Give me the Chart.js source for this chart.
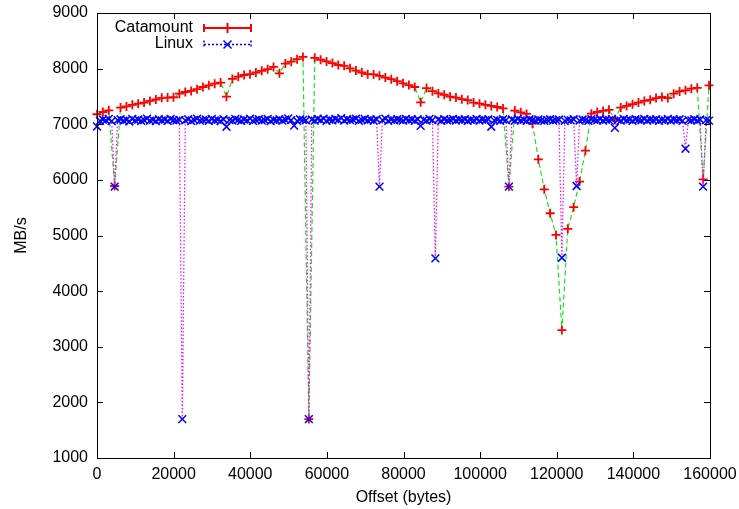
<!DOCTYPE html>
<html lang="en">
<head>
<meta charset="UTF-8">
<title>Catamount vs Linux</title>
<script src="https://cdn.jsdelivr.net/npm/chart.js"></script>
<style>
  html, body { margin: 0; padding: 0; background: #fff; }
  #box { width: 739px; height: 509px; }
</style>
</head>
<body>
<div id="box"><canvas id="grafico"></canvas></div>
<script>
// offsets (bytes) where Catamount was measured
const catOffsets = [
  0, 1536, 3072, 4608, 6144, 7680, 9216, 10752, 12288, 13824,
  15360, 16896, 18432, 19968, 21504, 23040, 24576, 26112, 27648, 29184,
  30720, 32256, 33792, 35328, 36864, 38400, 39936, 41472, 43008, 44544,
  46080, 47616, 49152, 50688, 52224, 53760, 55296, 56832, 58368, 59904,
  61440, 62976, 64512, 66048, 67584, 69120, 70656, 72192, 73728, 75264,
  76800, 78336, 79872, 81408, 82944, 84480, 86016, 87552, 89088, 90624,
  92160, 93696, 95232, 96768, 98304, 99840, 101376, 102912, 104448, 105984,
  107520, 109056, 110592, 112128, 113664, 115200, 116736, 118272, 119808, 121344,
  122880, 124416, 125952, 127488, 129024, 130560, 132096, 133632, 135168, 136704,
  138240, 139776, 141312, 142848, 144384, 145920, 147456, 148992, 150528, 152064,
  153600, 155136, 156672, 158208, 159744
];
// MB/s
const catamount = [
  7180, 7220, 7250, 5890, 7300, 7320, 7350, 7370, 7390, 7420,
  7445, 7475, 7480, 7485, 7550, 7580, 7600, 7630, 7670, 7700,
  7730, 7750, 7495, 7815, 7855, 7885, 7900, 7930, 7960, 7990,
  8030, 7915, 8090, 8125, 8170, 8210, 1700, 8195, 8160, 8130,
  8100, 8065, 8050, 8005, 7965, 7930, 7900, 7895, 7870, 7840,
  7810, 7775, 7735, 7705, 7670, 7395, 7650, 7595, 7555, 7530,
  7495, 7480, 7450, 7435, 7390, 7370, 7350, 7330, 7310, 7285,
  5880, 7245, 7215, 7185, 7010, 6370, 5830, 5400, 5010, 3300,
  5120, 5510, 5970, 6525, 7190, 7220, 7240, 7260, 7090, 7300,
  7330, 7360, 7390, 7420, 7440, 7470, 7490, 7470, 7550, 7590,
  7610, 7640, 7655, 6010, 7700
];

// offsets (bytes) where Linux was measured
const linuxOffsets = [
  0, 768, 1536, 2304, 3072, 3840, 4608, 5376, 6144, 6912,
  7680, 8448, 9216, 9984, 10752, 11520, 12288, 13056, 13824, 14592,
  15360, 16128, 16896, 17664, 18432, 19200, 19968, 20736, 21504, 22272,
  23040, 23808, 24576, 25344, 26112, 26880, 27648, 28416, 29184, 29952,
  30720, 31488, 32256, 33024, 33792, 34560, 35328, 36096, 36864, 37632,
  38400, 39168, 39936, 40704, 41472, 42240, 43008, 43776, 44544, 45312,
  46080, 46848, 47616, 48384, 49152, 49920, 50688, 51456, 52224, 52992,
  53760, 54528, 55296, 56064, 56832, 57600, 58368, 59136, 59904, 60672,
  61440, 62208, 62976, 63744, 64512, 65280, 66048, 66816, 67584, 68352,
  69120, 69888, 70656, 71424, 72192, 72960, 73728, 74496, 75264, 76032,
  76800, 77568, 78336, 79104, 79872, 80640, 81408, 82176, 82944, 83712,
  84480, 85248, 86016, 86784, 87552, 88320, 89088, 89856, 90624, 91392,
  92160, 92928, 93696, 94464, 95232, 96000, 96768, 97536, 98304, 99072,
  99840, 100608, 101376, 102144, 102912, 103680, 104448, 105216, 105984, 106752,
  107520, 108288, 109056, 109824, 110592, 111360, 112128, 112896, 113664, 114432,
  115200, 115968, 116736, 117504, 118272, 119040, 119808, 120576, 121344, 122112,
  122880, 123648, 124416, 125184, 125952, 126720, 127488, 128256, 129024, 129792,
  130560, 131328, 132096, 132864, 133632, 134400, 135168, 135936, 136704, 137472,
  138240, 139008, 139776, 140544, 141312, 142080, 142848, 143616, 144384, 145152,
  145920, 146688, 147456, 148224, 148992, 149760, 150528, 151296, 152064, 152832,
  153600, 154368, 155136, 155904, 156672, 157440, 158208, 158976, 159744
];
const linux = [
  6960, 7060, 7085, 7070, 7095, 7055, 5880, 7075, 7090, 7065,
  7080, 7050, 7095, 7070, 7085, 7060, 7075, 7100, 7065, 7080,
  7055, 7090, 7070, 7085, 7060, 7095, 7075, 7065, 7080, 1700,
  7070, 7090, 7055, 7080, 7100, 7065, 7075, 7085, 7060, 7095,
  7070, 7080, 7055, 7090, 6955, 7075, 7065, 7095, 7080, 7060,
  7085, 7070, 7100, 7060, 7080, 7090, 7065, 7075, 7095, 7055,
  7080, 7070, 7090, 7065, 7085, 7105, 7075, 6975, 7060, 7090,
  7080, 7070, 1700, 7085, 7065, 7095, 7075, 7100, 7060, 7085,
  7070, 7095, 7080, 7110, 7065, 7090, 7075, 7085, 7100, 7060,
  7080, 7095, 7070, 7085, 7065, 7090, 5880, 7075, 7100, 7060,
  7085, 7070, 7090, 7080, 7065, 7095, 7075, 7085, 7060, 7090,
  6970, 7080, 7065, 7095, 7075, 4590, 7085, 7060, 7090, 7070,
  7080, 7095, 7065, 7085, 7075, 7090, 7060, 7080, 7070, 7095,
  7065, 7085, 7075, 7090, 6955, 7070, 7080, 7060, 7090, 7075,
  5880, 7085, 7065, 7095, 7070, 7080, 7060, 7090, 7075, 7065,
  7085, 7070, 7060, 7080, 7090, 7065, 7075, 7085, 4600, 7060,
  7080, 7070, 7090, 5890, 7065, 7085, 7075, 7060, 7090, 7080,
  7070, 7095, 7065, 7085, 7075, 7090, 6935, 7080, 7065, 7095,
  7075, 7085, 7060, 7090, 7080, 7070, 7095, 7065, 7085, 7075,
  7090, 7060, 7080, 7070, 7095, 7065, 7085, 7075, 7090, 7060,
  6560, 7080, 7070, 7090, 7065, 7085, 5880, 7075, 7065
];

const xTicks = [0, 20000, 40000, 60000, 80000, 100000, 120000, 140000, 160000];
const yTicks = [1000, 2000, 3000, 4000, 5000, 6000, 7000, 8000, 9000];
const legendLabels = ['Catamount', 'Linux'];

const FONT = '"Liberation Sans", Arial, Helvetica, sans-serif';

// keep the plot box where the layout padding puts it
function fixPadding(s) {
  s.paddingLeft = 0;
  s.paddingRight = 0;
  s.paddingTop = 0;
  s.paddingBottom = 0;
}

// border, inward ticks and the gnuplot style key
const gnuplotBox = {
  id: 'gnuplotBox',
  afterDraw(chart) {
    const { ctx, chartArea: a, scales: { x, y } } = chart;
    ctx.save();
    ctx.setLineDash([]);
    ctx.strokeStyle = '#000';
    ctx.lineWidth = 1;
    ctx.strokeRect(a.left + 0.5, a.top + 0.5, a.right - a.left, a.bottom - a.top);

    ctx.beginPath();
    xTicks.forEach(function (v) {
      const px = Math.round(x.getPixelForValue(v)) + 0.5;
      ctx.moveTo(px, a.bottom); ctx.lineTo(px, a.bottom - 6);
      ctx.moveTo(px, a.top); ctx.lineTo(px, a.top + 6);
    });
    yTicks.forEach(function (v) {
      const py = Math.round(y.getPixelForValue(v)) + 0.5;
      ctx.moveTo(a.left, py); ctx.lineTo(a.left + 6, py);
      ctx.moveTo(a.right, py); ctx.lineTo(a.right - 6, py);
    });
    ctx.stroke();

    // key
    ctx.font = '16px ' + FONT;
    ctx.fillStyle = '#000';
    ctx.textAlign = 'right';
    ctx.textBaseline = 'middle';
    ctx.fillText(legendLabels[0], 193, 28);
    ctx.fillText(legendLabels[1], 193, 44);

    const x0 = 204, x1 = 251, xm = 227.5;
    // Catamount sample
    let yy = 28;
    ctx.strokeStyle = '#ff0000';
    ctx.lineWidth = 2;
    ctx.beginPath();
    ctx.moveTo(x0, yy); ctx.lineTo(x1, yy);
    ctx.moveTo(x0, yy - 4); ctx.lineTo(x0, yy + 4);
    ctx.moveTo(x1, yy - 4); ctx.lineTo(x1, yy + 4);
    ctx.moveTo(xm, yy - 5); ctx.lineTo(xm, yy + 5);
    ctx.stroke();

    // Linux sample
    yy = 44.5;
    ctx.strokeStyle = '#0000ff';
    ctx.lineWidth = 1.5;
    ctx.setLineDash([2, 2]);
    ctx.beginPath();
    ctx.moveTo(x0, yy); ctx.lineTo(x1, yy);
    ctx.moveTo(x0, yy - 4); ctx.lineTo(x0, yy + 4);
    ctx.moveTo(x1, yy - 4); ctx.lineTo(x1, yy + 4);
    ctx.stroke();
    ctx.setLineDash([]);
    ctx.beginPath();
    ctx.moveTo(xm - 4, yy - 4); ctx.lineTo(xm + 4, yy + 4);
    ctx.moveTo(xm - 4, yy + 4); ctx.lineTo(xm + 4, yy - 4);
    ctx.stroke();
    ctx.restore();
  }
};

const ctx = document.getElementById('grafico');

const grafico = new Chart(ctx, {
  type: 'line',
  data: {
    datasets: [
      {
        label: legendLabels[0],
        data: catOffsets.map((o, i) => ({ x: o, y: catamount[i] })),
        borderColor: '#22e022',
        borderWidth: 1.2,
        borderDash: [5, 3],
        pointStyle: 'cross',
        pointRadius: 4.5,
        pointHoverRadius: 4.5,
        pointBorderColor: '#ff0000',
        pointBackgroundColor: '#ff0000',
        pointBorderWidth: 1.8,
        fill: false,
        tension: 0,
        clip: false,
        order: 2
      },
      {
        label: legendLabels[1],
        data: linuxOffsets.map((o, i) => ({ x: o, y: linux[i] })),
        borderColor: '#ff00ff',
        borderWidth: 1.2,
        borderDash: [1.5, 2],
        pointStyle: 'crossRot',
        pointRadius: 5.5,
        pointHoverRadius: 5.5,
        pointBorderColor: '#0000ff',
        pointBackgroundColor: '#0000ff',
        pointBorderWidth: 1.5,
        fill: false,
        tension: 0,
        clip: false,
        order: 1
      }
    ]
  },
  options: {
    responsive: true,
    maintainAspectRatio: false,
    devicePixelRatio: 1,
    animation: false,
    events: [],
    layout: { padding: { left: 0, right: 29, top: 13, bottom: 0 } },
    plugins: {
      legend: { display: false },
      tooltip: { enabled: false }
    },
    scales: {
      x: {
        type: 'linear',
        min: 0,
        max: 160000,
        afterBuildTicks: function (s) { s.ticks = xTicks.map(v => ({ value: v })); },
        afterFit: function (s) { s.height = 51; fixPadding(s); },
        grid: { display: false, drawTicks: false },
        border: { display: false },
        ticks: {
          autoSkip: false,
          maxRotation: 0,
          padding: 7,
          color: '#000',
          font: { family: FONT, size: 16 },
          callback: v => String(v)
        },
        title: {
          display: true,
          text: 'Offset (bytes)',
          color: '#000',
          font: { family: FONT, size: 16 },
          padding: { top: 0, bottom: 2 }
        }
      },
      y: {
        type: 'linear',
        min: 1000,
        max: 9000,
        afterBuildTicks: function (s) { s.ticks = yTicks.map(v => ({ value: v })); },
        afterFit: function (s) { s.width = 97; fixPadding(s); },
        grid: { display: false, drawTicks: false },
        border: { display: false },
        ticks: {
          padding: 9,
          color: '#000',
          font: { family: FONT, size: 16 },
          callback: v => String(v)
        },
        title: {
          display: true,
          text: 'MB/s',
          color: '#000',
          font: { family: FONT, size: 16 },
          padding: { top: 12, bottom: 0 }
        }
      }
    }
  },
  plugins: [gnuplotBox]
});
</script>
</body>
</html>
